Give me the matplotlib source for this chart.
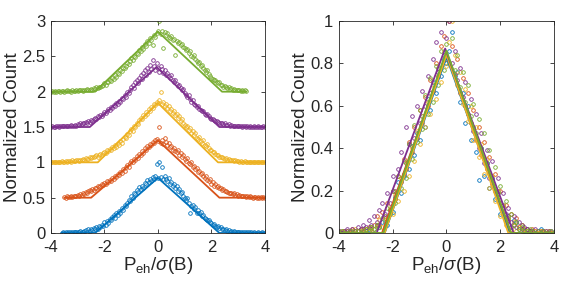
import numpy as np
import matplotlib
matplotlib.use("Agg")
import matplotlib.pyplot as plt

plt.rcParams['font.family'] = ['Liberation Sans', 'DejaVu Sans']
plt.rcParams['mathtext.fontset'] = 'custom'
plt.rcParams['mathtext.rm'] = 'Liberation Sans'
plt.rcParams['mathtext.it'] = 'Liberation Sans:italic'
plt.rcParams['axes.unicode_minus'] = False

nan = float('nan')

colors = ["#0072BD", "#D95319", "#EDB120", "#7E2F8E", "#77AC30"]
offsets = [0, 0.5, 1.0, 1.5, 2.0]

# bin centres, left panel
x_left = [-4.0, -3.95, -3.9, -3.85, -3.8, -3.75, -3.7, -3.65, -3.6, -3.55, -3.5, -3.45, -3.4, -3.35, -3.3, -3.25, -3.2, -3.15, -3.1, -3.05,
          -3.0, -2.95, -2.9, -2.85, -2.8, -2.75, -2.7, -2.65, -2.6, -2.55, -2.5, -2.45, -2.4, -2.35, -2.3, -2.25, -2.2, -2.15, -2.1, -2.05,
          -2.0, -1.95, -1.9, -1.85, -1.8, -1.75, -1.7, -1.65, -1.6, -1.55, -1.5, -1.45, -1.4, -1.35, -1.3, -1.25, -1.2, -1.15, -1.1, -1.05,
          -1.0, -0.95, -0.9, -0.85, -0.8, -0.75, -0.7, -0.65, -0.6, -0.55, -0.5, -0.45, -0.4, -0.35, -0.3, -0.25, -0.2, -0.15, -0.1, -0.05,
          0.0, 0.05, 0.1, 0.15, 0.2, 0.25, 0.3, 0.35, 0.4, 0.45, 0.5, 0.55, 0.6, 0.65, 0.7, 0.75, 0.8, 0.85, 0.9, 0.95,
          1.0, 1.05, 1.1, 1.15, 1.2, 1.25, 1.3, 1.35, 1.4, 1.45, 1.5, 1.55, 1.6, 1.65, 1.7, 1.75, 1.8, 1.85, 1.9, 1.95,
          2.0, 2.05, 2.1, 2.15, 2.2, 2.25, 2.3, 2.35, 2.4, 2.45, 2.5, 2.55, 2.6, 2.65, 2.7, 2.75, 2.8, 2.85, 2.9, 2.95,
          3.0, 3.05, 3.1, 3.15, 3.2, 3.25, 3.3, 3.35, 3.4, 3.45, 3.5, 3.55, 3.6, 3.65, 3.7, 3.75, 3.8, 3.85, 3.9, 3.95,
          4.0]

blue_left = [nan, nan, nan, nan, nan, nan, nan, nan, .00, .01, .00, .01, .00, .01, .01, .00, .01, .02, .01, .01,
             .02, .01, .03, .02, .01, .03, .04, .02, .05, .03, .06, .04, .07, .05, .09, .06, .10, .08, .12, .10,
             .15, .12, .17, .14, .20, .18, .22, .25, .21, .28, .26, .31, .29, .36, .33, .40, .38, .43, .47, .45,
             .52, .49, .57, .55, .61, .58, .65, .62, .67, .64, .71, .69, .75, .72, .77, .74, .79, .76, .80, .97,
             .78, 1.0, .79, .93, .77, .80, .76, .74, .78, .70, .72, .67, .69, .63, .66, .60, .62, .56, .58, .52,
             .50, .47, .49, .42, .28, .38, .40, .34, .37, .29, .32, .28, .30, .24, .26, .21, .20, .18, .19, .15,
             .14, .12, .13, .10, .09, .10, .07, .08, .05, .06, .04, .05, .03, .04, .02, .03, .02, .03, .01, .02,
             .01, .02, .01, .00, .01, .02, .00, .01, .01, .00, .01, .00, .01, .00, .00, .01, .00, .00, .01, .00,
             .00]
orange_left = [nan, nan, nan, nan, nan, nan, nan, nan, nan, nan, .01, .00, .02, .01, .01, .02, .01, .02, .03, .02,
               .04, .03, .05, .04, .06, .05, .08, .06, .09, .11, .10, .12, .11, .14, .13, .16, .15, .17, .19, .18,
               .21, .19, .23, .22, .25, .24, .28, .26, .31, .29, .34, .32, .37, .35, .40, .38, .43, .46, .44, .49,
               .52, .50, .55, .53, .59, .56, .62, .60, .66, .63, .70, .67, .73, .71, .76, .74, .79, .77, .81, .83,
               .80, 1.0, .78, .82, .76, .84, .79, .74, .77, .71, .73, .68, .70, .66, .64, .67, .61, .63, .57, .60,
               .55, .52, .56, .49, .47, .50, .43, .45, .40, .42, .36, .38, .33, .35, .30, .28, .31, .25, .23, .26,
               .20, .22, .17, .19, .15, .16, .13, .14, .11, .12, .09, .10, .08, .07, .06, .07, .05, .06, .04, .05,
               .03, .04, .03, .02, .03, .02, .01, .02, .01, .02, .01, .00, .01, .01, .00, .01, .00, .01, .00, .01,
               .00]
yellow_left = [.00, .01, .00, .01, .01, .00, .01, .01, .02, .01, .01, .02, .01, .02, .02, .01, .03, .02, .02, .03,
               .03, .02, .04, .03, .05, .04, .06, .05, .05, .07, .06, .08, .07, .09, .10, .08, .11, .12, .10, .13,
               .15, .13, .17, .16, .19, .18, .21, .20, .24, .22, .27, .25, .30, .28, .33, .36, .34, .40, .38, .44,
               .47, .45, .52, .50, .56, .54, .60, .63, .61, .67, .65, .71, .69, .75, .73, .79, .77, .83, .81, .86,
               .84, .88, 1.0, .82, .85, .80, .83, .77, .80, .73, .76, .70, .72, .67, .69, .63, .65, .59, .61, .55,
               .53, .50, .52, .46, .48, .42, .44, .39, .41, .35, .33, .36, .30, .28, .31, .25, .23, .26, .20, .18,
               .17, .14, .15, .12, .10, .11, .08, .07, .08, .06, .05, .06, .04, .05, .03, .04, .03, .02, .03, .02,
               .02, .01, .02, .01, .01, .02, .00, .01, .01, .00, .01, .01, .00, .01, .00, .01, .00, .00, .01, .00,
               .00]
purple_left = [.00, .01, .00, .00, .01, .01, .00, .01, .01, .02, .01, .01, .02, .01, .02, .03, .02, .02, .03, .02,
               .04, .03, .05, .04, .06, .05, .07, .06, .08, .07, .10, .09, .11, .13, .12, .15, .14, .17, .16, .19,
               .21, .20, .23, .25, .24, .28, .27, .31, .30, .34, .33, .37, .36, .41, .40, .45, .43, .49, .48, .53,
               .56, .60, .55, .63, .66, .62, .70, .73, .68, .76, .80, .74, .84, .78, .88, .82, .95, .86, .80, .90,
               .84, .78, .86, .82, .77, .80, .74, .76, .72, .70, .73, .67, .64, .66, .61, .58, .60, .55, .52, .54,
               .48, .46, .43, .45, .39, .36, .38, .33, .31, .29, .30, .26, .24, .22, .23, .19, .17, .18, .15, .13,
               .12, .11, .10, .08, .09, .07, .06, .05, .06, .04, .05, .03, .03, .04, .02, .03, .02, .01, .02, .01,
               .01, .02, .01, .00, .01, .01, .00, .01, .00, .01, .00, .00, .01, .00, .00, .01, .00, .00, .00, .01,
               .00]
green_left = [.00, .01, .00, .01, .00, .01, .01, .00, .01, .01, .00, .01, .02, .01, .01, .00, .02, .01, .01, .02,
              .01, .02, .03, .02, .01, .03, .02, .04, .03, .02, .04, .03, .05, .04, .06, .05, .07, .06, .08, .09,
              .12, .10, .14, .13, .17, .15, .20, .18, .23, .21, .27, .25, .31, .29, .34, .33, .37, .40, .39, .44,
              .47, .45, .51, .49, .55, .53, .59, .57, .63, .61, .68, .65, .72, .69, .76, .73, .66, .80, .77, .83,
              .86, 1.0, .82, .86, .62, .84, .80, .83, .78, .76, .79, .73, .75, .52, .72, .69, .71, .66, .68, .63,
              .62, .59, .60, .55, .57, .51, .49, .52, .46, .44, .40, .42, .36, .38, .33, .31, .28, .30, .25, .22,
              .20, .18, .16, .17, .14, .12, .13, .10, .09, .07, .08, .06, .05, .06, .04, .05, .03, .04, .02, .03,
              .02, .03, .01, .02, .01, .02, .01, nan, nan, nan, nan, nan, nan, nan, nan, nan, nan, nan, nan, nan,
              nan]

# bin centres, right panel
x_right = [-4.0, -3.9, -3.8, -3.7, -3.6, -3.5, -3.4, -3.3, -3.2, -3.1,
           -3.0, -2.9, -2.8, -2.7, -2.6, -2.5, -2.4, -2.3, -2.2, -2.1,
           -2.0, -1.9, -1.8, -1.7, -1.6, -1.5, -1.4, -1.3, -1.2, -1.1,
           -1.0, -0.9, -0.8, -0.7, -0.6, -0.5, -0.4, -0.3, -0.2, -0.1,
           0.0, 0.1, 0.2, 0.3, 0.4, 0.5, 0.6, 0.7, 0.8, 0.9,
           1.0, 1.1, 1.2, 1.3, 1.4, 1.5, 1.6, 1.7, 1.8, 1.9,
           2.0, 2.1, 2.2, 2.3, 2.4, 2.5, 2.6, 2.7, 2.8, 2.9,
           3.0, 3.1, 3.2, 3.3, 3.4, 3.5, 3.6, 3.7, 3.8, 3.9,
           4.0]

blue_right = [.00, .01, .00, .01, .00, .01, .00, .01, .01, .02,
              .01, .02, .03, .02, .04, .03, .05, .08, .04, .11,
              .10, .17, .24, .19, .27, .33, .30, .41, .37, .47,
              .44, .55, .50, .63, .58, .71, .66, .78, .74, .82,
              .80, .86, .95, .74, .76, .62, .66, .52, .60, .44,
              .50, .38, .25, .40, .27, .33, .21, .26, .16, .20,
              .09, .13, .05, .08, .03, .06, .05, .02, .04, .01,
              .02, .01, .01, .00, .01, .02, .01, .00, .01, .00,
              .00]
orange_right = [.01, .00, .01, .01, .00, .02, .01, .01, .02, .01,
                .02, .03, .02, .04, .08, .04, .10, .07, .14, .11,
                .20, .16, .27, .24, .35, .30, .43, .38, .50, .45,
                .58, .52, .64, .60, .72, .67, .80, .74, .88, .93,
                .82, 1.0, .88, .75, .82, .66, .73, .60, .66, .52,
                .58, .44, .50, .37, .43, .30, .36, .23, .28, .17,
                .20, .10, .13, .06, .09, .04, .07, .03, .04, .02,
                .02, .01, .02, .01, .00, .01, .01, .00, .01, .00,
                .00]
yellow_right = [.00, .01, .01, .00, .01, .01, .02, .01, .01, .02,
                .02, .01, .03, .02, .04, .06, .03, .08, .06, .12,
                .09, .18, .15, .26, .20, .33, .27, .40, .34, .48,
                .42, .55, .50, .62, .56, .70, .63, .78, .71, .86,
                .79, .90, 1.0, .84, .70, .76, .61, .68, .53, .60,
                .44, .50, .36, .42, .28, .35, .21, .27, .15, .20,
                .08, .13, .04, .07, .02, .05, .01, .03, .01, .02,
                .01, .00, .01, .01, .00, .01, .00, .01, .00, .00,
                .00]
purple_right = [.01, .00, .01, .02, .01, .02, .01, .03, .02, .04,
                .03, .06, .04, .08, .05, .11, .14, .09, .19, .14,
                .27, .20, .30, .38, .28, .50, .42, .55, .45, .60,
                .52, .67, .60, .74, .66, .82, .90, .76, .95, .84,
                .92, 1.0, .80, .86, .72, .78, .64, .71, .56, .63,
                .48, .56, .40, .47, .33, .39, .26, .34, .20, .26,
                .14, .19, .09, .12, .05, .08, .03, .05, .02, .03,
                .02, .01, .01, .02, .01, .00, .01, .01, .00, .01,
                .00]
green_right = [.00, .01, .00, .00, .01, .00, .01, .01, .00, .01,
               .02, .01, .03, .02, .04, .03, .07, .05, .12, .09,
               .20, .14, .27, .21, .34, .26, .42, .35, .51, .43,
               .58, .49, .65, .56, .73, .62, .79, .70, .86, .77,
               .89, .80, .92, .77, .84, .69, .76, .62, .70, .55,
               .61, .47, .54, .40, .47, .33, .39, .25, .31, .19,
               .22, .12, .15, .07, .09, .04, .05, .02, .03, .01,
               .01, .02, .01, .00, .01, .00, .01, .00, .00, .01,
               .00]

# triangular fits: feet, apex position and apex height
fit_left_start = [-3.6, -3.5, -4.0, -4.0, -4.0]
fit_left_end = [4.0, 4.0, 4.0, 4.0, 3.3]
fit_left_lo = [-2.35, -2.5, -2.25, -2.55, -2.35]
fit_left_hi = [2.3, 2.3, 2.25, 2.3, 2.4]
fit_left_px = [0.0, 0.0, 0.0, -0.05, 0.0]
fit_left_peak = [0.78, 0.81, 0.84, 0.85, 0.85]

fit_right_lo = [-2.3, -2.4, -2.3, -2.6, -2.35]
fit_right_hi = [2.35, 2.4, 2.3, 2.5, 2.4]
fit_right_px = [0.0, 0.0, 0.0, -0.05, 0.0]
fit_right_peak = [0.83, 0.85, 0.84, 0.87, 0.86]

left_sets = [blue_left, orange_left, yellow_left, purple_left, green_left]
right_sets = [blue_right, orange_right, yellow_right, purple_right, green_right]

fig = plt.figure(figsize=(5.81, 2.88), dpi=100)
ax1 = fig.add_axes([0.0878, 0.191, 0.368, 0.736])
ax2 = fig.add_axes([0.5835, 0.191, 0.370, 0.736])

mk = dict(marker='o', ls='none', mfc='none', ms=2.6, mew=0.6)

for i in range(5):
    y = np.array(left_sets[i]) + offsets[i]
    ax1.plot(x_left, y, color=colors[i], **mk)
    fx = [fit_left_start[i], fit_left_lo[i], fit_left_px[i], fit_left_hi[i], fit_left_end[i]]
    fy = np.array([0, 0, fit_left_peak[i], 0, 0]) + offsets[i]
    ax1.plot(fx, fy, color=colors[i], lw=1.3)

for i in range(5):
    ax2.plot(x_right, right_sets[i], color=colors[i], **mk)
for i in range(5):
    fx = [-4, fit_right_lo[i], fit_right_px[i], fit_right_hi[i], 4]
    fy = [0, 0, fit_right_peak[i], 0, 0]
    ax2.plot(fx, fy, color=colors[i], lw=1.3)

ax1.set_xlim(-4, 4)
ax1.set_ylim(0, 3)
ax1.set_yticks([0, 0.5, 1, 1.5, 2, 2.5, 3])
ax1.set_yticklabels(["0", "0.5", "1", "1.5", "2", "2.5", "3"])

ax2.set_xlim(-4, 4)
ax2.set_ylim(0, 1)
ax2.set_yticks([0, 0.2, 0.4, 0.6, 0.8, 1])
ax2.set_yticklabels(["0", "0.2", "0.4", "0.6", "0.8", "1"])

for ax in (ax1, ax2):
    ax.set_xticks([-4, -2, 0, 2, 4])
    ax.set_xticklabels(["-4", "-2", "0", "2", "4"])
    for s in ax.spines.values():
        s.set_linewidth(0.6)
        s.set_color("#262626")
    ax.tick_params(direction='in', length=3, width=0.6, top=True, right=True,
                   labelsize=12, colors="#262626")
    ax.tick_params(axis='x', pad=5)
    ax.tick_params(axis='y', pad=4)
    ax.set_ylabel("Normalized Count", fontsize=13.5, color="#262626", labelpad=1)
    ax.set_xlabel(r"P$_{\mathrm{eh}}$/$\sigma$(B)", fontsize=13.5, color="#262626", labelpad=0)

fig.savefig("out.png", dpi=100)
